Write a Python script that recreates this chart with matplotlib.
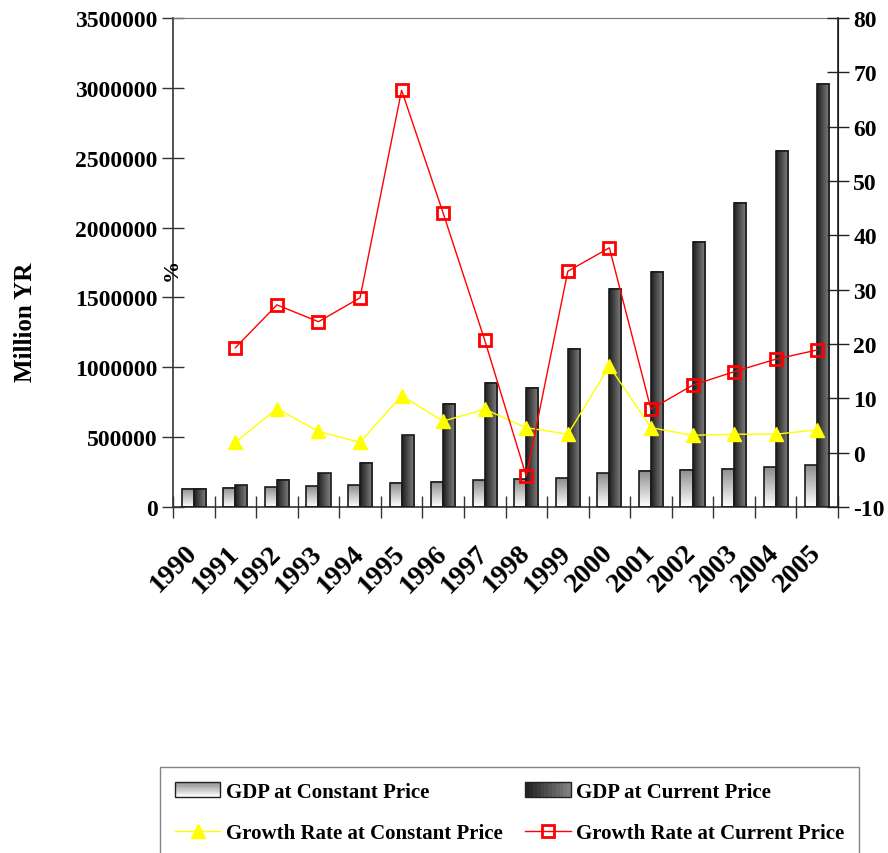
import numpy as np
import matplotlib
matplotlib.use("Agg")
import matplotlib.pyplot as plt
from matplotlib.patches import Rectangle
from matplotlib.lines import Line2D
from matplotlib.legend_handler import HandlerBase

years = ["1990", "1991", "1992", "1993", "1994", "1995", "1996", "1997",
         "1998", "1999", "2000", "2001", "2002", "2003", "2004", "2005"]
gdp_const = [130000, 136000, 143000, 150000, 155000, 172000, 179000, 193000,
             200000, 207000, 243000, 258000, 265000, 272000, 286000, 298000]
gdp_curr = [130000, 157000, 195000, 243000, 315000, 513000, 740000, 890000,
            852000, 1134000, 1563000, 1685000, 1897000, 2179000, 2551000, 3031000]
growth_const = [np.nan, 1.9, 8.1, 3.9, 1.9, 10.5, 5.8, 8.0,
                4.6, 3.4, 15.9, 4.6, 3.2, 3.4, 3.4, 4.2]
growth_curr = [np.nan, 19.3, 27.2, 24.1, 28.5, 66.7, 44.1, 20.7,
               -4.3, 33.4, 37.7, 8.0, 12.4, 14.9, 17.2, 18.9]

plt.rcParams['font.family'] = ['Liberation Serif', 'DejaVu Serif']
plt.rcParams['font.weight'] = 'bold'

light_grad = np.linspace(1.0, 0.55, 64).reshape(-1, 1)      # white bottom -> gray top
dark_grad = np.linspace(0.12, 0.52, 64).reshape(1, -1)      # dark left -> gray right


class GradientHandler(HandlerBase):
    def __init__(self, kind):
        super().__init__()
        self.kind = kind

    def create_artists(self, legend, orig, xd, yd, w, h, fs, trans):
        arts = []
        n = 12
        for k in range(n):
            if self.kind == 'light':
                v = 1.0 - 0.45 * (k + 0.5) / n
                r = Rectangle((xd, yd + h * k / n), w, h / n + 0.3, fc=str(v), ec='none', transform=trans)
            else:
                v = 0.12 + 0.40 * (k + 0.5) / n
                r = Rectangle((xd + w * k / n, yd), w / n + 0.3, h, fc=str(v), ec='none', transform=trans)
            arts.append(r)
        arts.append(Rectangle((xd, yd), w, h, fc='none', ec='#222222', lw=1, transform=trans))
        return arts


fig = plt.figure(figsize=(8.88, 8.54), dpi=100)
ax = fig.add_axes([173 / 888, 1 - 508 / 854, 665 / 888, 489 / 854])
ax2 = ax.twinx()

x = np.arange(len(years))
bw = 0.29
for i in x:
    x0 = i - bw
    ax.imshow(light_grad, extent=(x0, x0 + bw, 0, gdp_const[i]), aspect='auto',
              cmap='gray', vmin=0, vmax=1, origin='lower', zorder=2)
    ax.imshow(dark_grad, extent=(i, i + bw, 0, gdp_curr[i]), aspect='auto',
              cmap='gray', vmin=0, vmax=1, origin='lower', zorder=2)
ax.bar(x - bw / 2, gdp_const, bw, fc='none', ec='#1a1a1a', lw=1.2, zorder=3)
ax.bar(x + bw / 2, gdp_curr, bw, fc='none', ec='#1a1a1a', lw=1.2, zorder=3)

ax.set_xlim(-0.5, len(years) - 0.5)
ax.set_ylim(0, 3500000)
ax.set_yticks(np.arange(0, 3500001, 500000))
ax.set_yticklabels([str(v) for v in range(0, 3500001, 500000)], fontsize=17, fontweight='bold')
ax.set_xticks(np.arange(-0.5, len(years), 1.0))
ax.set_xticklabels([])
ax.set_xticks(x, minor=True)
ax.set_xticklabels(years, minor=True, rotation=45, ha='right', va='center',
                   rotation_mode='anchor', fontsize=20, fontweight='bold')
ax.tick_params(axis='x', which='minor', length=0, pad=30)
ax.tick_params(axis='x', which='major', direction='inout', length=16, width=1, color='#333333')
ax.tick_params(axis='y', direction='inout', length=16, width=1, color='#333333', pad=3)
ax.set_ylabel("Million YR", fontsize=18, fontweight='bold')
ax.yaxis.set_label_coords(-0.205, 0.38)
ax.spines['top'].set_color('#777777')
ax.spines['top'].set_linewidth(0.8)
for s in ['left', 'bottom']:
    ax.spines[s].set_color('#333333')
    ax.spines[s].set_linewidth(1.2)

ax2.plot(x, growth_const, color='#ffff00', lw=1, marker='^', ms=10, mec='#ffff00', mfc='#ffff00', zorder=5)
ax2.plot(x, growth_curr, color='#ff0000', lw=1, marker='s', ms=8, mfc='none', mec='#ff0000', mew=2, zorder=5)
ax2.set_ylim(-10, 80)
ax2.set_yticks(np.arange(-10, 81, 10))
ax2.set_yticklabels([str(v) for v in range(-10, 81, 10)], fontsize=17, fontweight='bold')
ax2.tick_params(axis='y', direction='inout', length=16, width=1, color='#222222', pad=3)
for s in ['left', 'top', 'bottom']:
    ax2.spines[s].set_visible(False)
ax2.spines['right'].set_linewidth(1.2)
ax2.spines['right'].set_color('#222222')

fig.text(172 / 888, 1 - 270 / 854, "%", rotation=90, fontsize=16, fontweight='bold', ha='center', va='center')

h_const = Rectangle((0, 0), 1, 1)
h_curr = Rectangle((0, 1), 1, 1)
h_gc = Line2D([], [], color='#ffff00', lw=1, marker='^', ms=10, mfc='#ffff00', mec='#ffff00')
h_gr = Line2D([], [], color='#ff0000', lw=1, marker='s', ms=8, mfc='none', mec='#ff0000', mew=2)
leg = fig.legend([h_const, h_gc, h_curr, h_gr],
                 ["GDP at Constant Price", "Growth Rate at Constant Price",
                  "GDP at Current Price", "Growth Rate at Current Price"],
                 handler_map={h_const: GradientHandler('light'), h_curr: GradientHandler('dark')},
                 ncol=2, loc='upper left', bbox_to_anchor=(160 / 888, 1 - 768 / 854),
                 prop={'size': 15, 'weight': 'bold'}, frameon=True, fancybox=False,
                 edgecolor='#666666', borderpad=0.7, labelspacing=1.05, handlelength=2.2,
                 handleheight=0.7, handletextpad=0.25, columnspacing=1.1, borderaxespad=0)
leg.get_frame().set_linewidth(1)

plt.savefig("out.png", dpi=100)
